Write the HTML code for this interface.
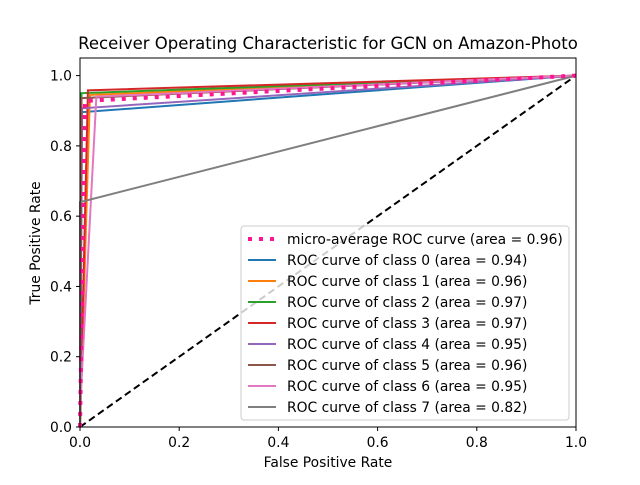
<!DOCTYPE html>
<html><head><meta charset="utf-8"><style>
body{margin:0;background:#fff;}
svg text{font-family:"DejaVu Sans","Liberation Sans",sans-serif;fill:#000;}
</style></head><body>
<svg id="chart" width="640" height="480" xmlns="http://www.w3.org/2000/svg">
<rect width="640" height="480" fill="#fff"/>
<text x="328" y="49" font-size="16.5" text-anchor="middle">Receiver Operating Characteristic for GCN on Amazon-Photo</text>
<g id="plot"></g>
<rect x="80" y="58" width="496" height="369" fill="none" stroke="#000" stroke-width="1"/>
<g id="ticks"></g>
<text x="328" y="467" font-size="13.85" text-anchor="middle">False Positive Rate</text>
<text x="40" y="243" font-size="13.85" text-anchor="middle" transform="rotate(-90 40 243)">True Positive Rate</text>
<g id="legend"></g>
</svg>
<script>
const seriesNames=["micro-average ROC curve (area = 0.96)","ROC curve of class 0 (area = 0.94)","ROC curve of class 1 (area = 0.96)","ROC curve of class 2 (area = 0.97)","ROC curve of class 3 (area = 0.97)","ROC curve of class 4 (area = 0.95)","ROC curve of class 5 (area = 0.96)","ROC curve of class 6 (area = 0.95)","ROC curve of class 7 (area = 0.82)"];
const seriesColors=["#ff1493","#1f77b4","#ff7f0e","#2ca02c","#d62728","#9467bd","#8c564b","#e377c2","#7f7f7f"];
const fprValues=[[0,0.01,1],[0,0.004,1],[0,0.02,1],[0,0.003,1],[0,0.016,1],[0,0.004,1],[0,0.003,1],[0,0,0.033,1],[0,0,1]];
const tprValues=[[0,0.928,1],[0,0.896,1],[0,0.945,1],[0,0.95,1],[0,0.958,1],[0,0.907,1],[0,0.936,1],[0,0.05,0.94,1],[0,0.64,1]];
const xTicks=[0,0.2,0.4,0.6,0.8,1.0];
const yTicks=[0,0.2,0.4,0.6,0.8,1.0];
const NS="http://www.w3.org/2000/svg";
const X=v=>80+496*v, Y=v=>427-351.4*v;
const plot=document.getElementById('plot');
const order=[1,2,3,4,5,6,7,8,0];
let d=document.createElementNS(NS,'line');
d.setAttribute('x1',X(0));d.setAttribute('y1',Y(0));d.setAttribute('x2',X(1));d.setAttribute('y2',Y(1));
d.setAttribute('stroke','#000');d.setAttribute('stroke-width','2');d.setAttribute('stroke-dasharray','7,4');


plot.appendChild(d);
order.forEach(i=>{
  const p=document.createElementNS(NS,'polyline');
  p.setAttribute('points',fprValues[i].map((f,k)=>X(f)+','+Y(tprValues[i][k])).join(' '));
  p.setAttribute('fill','none');p.setAttribute('stroke',seriesColors[i]);
  if(i===0){p.setAttribute('stroke-width','4');p.setAttribute('stroke-dasharray','4,7');}
  else p.setAttribute('stroke-width','2');
  
  
  plot.appendChild(p);
});
const tk=document.getElementById('ticks');
xTicks.forEach(v=>{
  const l=document.createElementNS(NS,'line');l.setAttribute('x1',X(v));l.setAttribute('x2',X(v));l.setAttribute('y1',427);l.setAttribute('y2',431);l.setAttribute('stroke','#000');
  
  
  tk.appendChild(l);
  const t=document.createElementNS(NS,'text');t.setAttribute('x',X(v));t.setAttribute('y',447);t.setAttribute('font-size','13.85');t.setAttribute('text-anchor','middle');t.textContent=v.toFixed(1);
  
  
  tk.appendChild(t);
});
yTicks.forEach(v=>{
  const l=document.createElementNS(NS,'line');l.setAttribute('x1',76);l.setAttribute('x2',80);l.setAttribute('y1',Y(v));l.setAttribute('y2',Y(v));l.setAttribute('stroke','#000');
  
  
  tk.appendChild(l);
  const t=document.createElementNS(NS,'text');t.setAttribute('x',72);t.setAttribute('y',Y(v)+5);t.setAttribute('font-size','13.85');t.setAttribute('text-anchor','end');t.textContent=v.toFixed(1);
  
  
  tk.appendChild(t);
});
const lg=document.getElementById('legend');
const box=document.createElementNS(NS,'rect');
box.setAttribute('x',241);box.setAttribute('y',226);box.setAttribute('width',328);box.setAttribute('height',194);box.setAttribute('rx',3);
box.setAttribute('fill','#fff');box.setAttribute('fill-opacity','0.8');box.setAttribute('stroke','#ccc');


lg.appendChild(box);
seriesNames.forEach((n,i)=>{
  const y=239+i*21;
  const l=document.createElementNS(NS,'line');l.setAttribute('x1',248);l.setAttribute('x2',276);l.setAttribute('y1',y);l.setAttribute('y2',y);
  l.setAttribute('stroke',seriesColors[i]);
  if(i===0){l.setAttribute('stroke-width','4');l.setAttribute('stroke-dasharray','4,7');}else l.setAttribute('stroke-width','2');
  
  
  lg.appendChild(l);
  const t=document.createElementNS(NS,'text');t.setAttribute('x',287);t.setAttribute('y',y+5);t.setAttribute('font-size','13.85');t.textContent=n;
  
  
  lg.appendChild(t);
});
</script>
</body></html>
